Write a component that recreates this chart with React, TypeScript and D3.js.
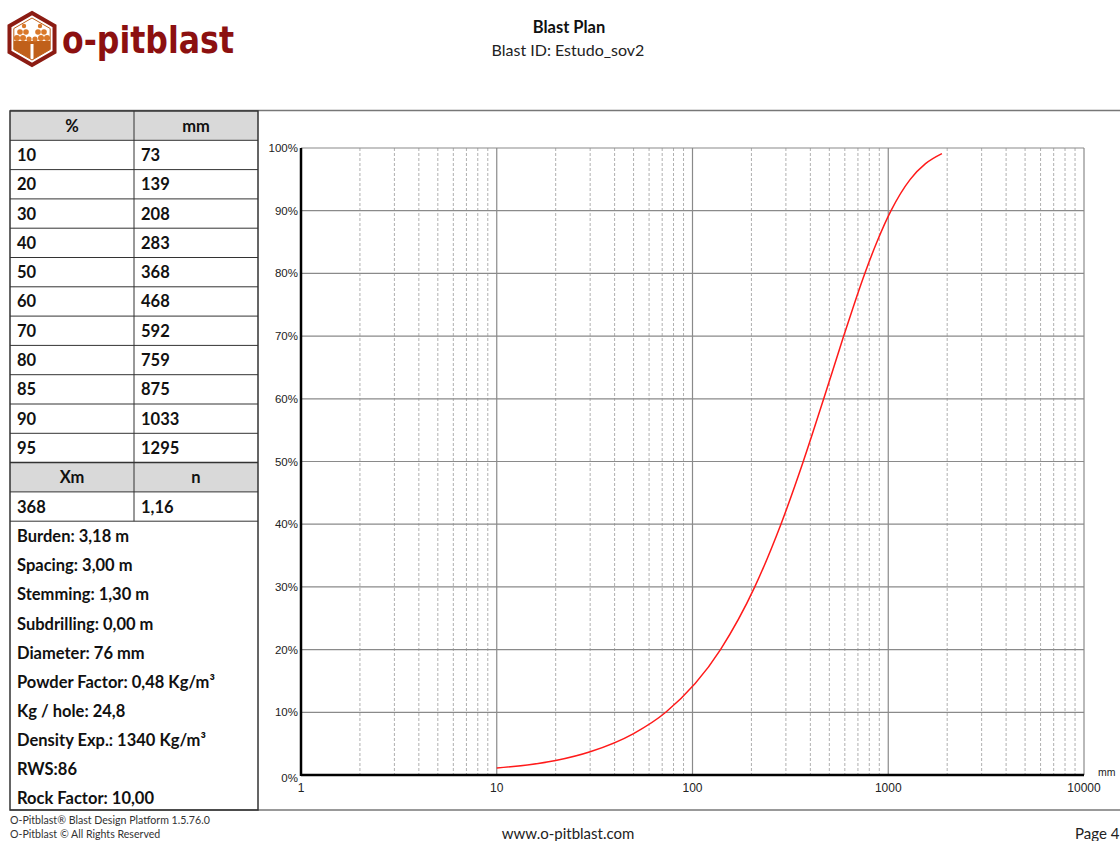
import React from "react";
import * as d3 from "d3";

const W = 1120;
const H = 841;

const pctRows = ["10", "20", "30", "40", "50", "60", "70", "80", "85", "90", "95"];
const mmRows = ["73", "139", "208", "283", "368", "468", "592", "759", "875", "1033", "1295"];
const xmValue = "368";
const nValue = "1,16";
const params = [
  "Burden: 3,18 m",
  "Spacing: 3,00 m",
  "Stemming: 1,30 m",
  "Subdrilling: 0,00 m",
  "Diameter: 76 mm",
  "Powder Factor: 0,48 Kg/m³",
  "Kg / hole: 24,8",
  "Density Exp.: 1340 Kg/m³",
  "RWS:86",
  "Rock Factor: 10,00",
];

// curve points: size (mm) and passing (%)
const curveSizes = [10, 20, 30, 50, 73, 139, 208, 283, 368, 468, 592, 759, 875, 1033, 1295, 1550, 1880];
const curvePassing = [1.1, 2.3, 3.7, 6.6, 10, 20, 30, 40, 50, 60, 70, 80, 85, 90, 95, 97.5, 99.1];

const yTicks = [0, 10, 20, 30, 40, 50, 60, 70, 80, 90, 100];
const xDecades = [1, 10, 100, 1000, 10000];

const FONT = "Lato, 'Open Sans', sans-serif";
const AX_FONT = "'Liberation Sans', Arial, sans-serif";

function Logo() {
  const cx = 32, cy = 39, r = 26;
  const hex = d3.range(6).map((i) => {
    const a = (Math.PI / 3) * i - Math.PI / 2;
    return [cx + r * Math.cos(a), cy + r * Math.sin(a)];
  });
  const rIn = 21;
  const hexIn = d3.range(6).map((i) => {
    const a = (Math.PI / 3) * i - Math.PI / 2;
    return [cx + rIn * Math.cos(a), cy + rIn * Math.sin(a)];
  });
  const circles = [
    [24, 26, 2.2], [40, 26, 2.2],
    [20, 32, 2.8], [26, 32, 2.8], [38, 32, 2.8], [44, 32, 2.8],
    [17, 38, 3], [23, 38, 3], [29, 39, 2.6], [35, 39, 2.6], [41, 38, 3], [47, 38, 3],
  ];
  return (
    <g>
      <polygon points={hex.map((p) => p.join(",")).join(" ")} fill="#fff" stroke="#8c1c13" strokeWidth={4} />
      <clipPath id="hexclip">
        <polygon points={hexIn.map((p) => p.join(",")).join(" ")} />
      </clipPath>
      <g clipPath="url(#hexclip)">
        <rect x={cx - rIn} y={41} width={rIn * 2} height={30} fill="#c0601a" />
        {circles.map((c, i) => (
          <circle key={i} cx={c[0]} cy={c[1]} r={c[2]} fill="#d9782a" />
        ))}
        <rect x={30.5} y={44} width={3} height={20} fill="#fff" />
      </g>
      <polygon points={hexIn.map((p) => p.join(",")).join(" ")} fill="none" stroke="#c0601a" strokeWidth={1} />
      <text
        x={62}
        y={53}
        fontFamily="'DejaVu Sans', 'Liberation Sans', sans-serif"
        fontWeight="bold"
        fontSize={38}
        fill="#8c1010"
        textLength={172}
        lengthAdjust="spacingAndGlyphs"
      >
        o-pitblast
      </text>
    </g>
  );
}

function Table() {
  const x0 = 10, x1 = 134, x2 = 258;
  const top = 111;
  const rowH = 29.3;
  const headerY = top;
  const rowsTop = top + rowH;
  const xmHeaderY = rowsTop + rowH * pctRows.length;
  const xmRowY = xmHeaderY + rowH;
  const paramsTop = xmRowY + rowH;
  const bottom = 810;
  const stroke = "#333";
  const textStyle = { fontFamily: FONT, fontWeight: 700 as const, fontSize: 16.5, fill: "#111" };
  return (
    <g>
      <rect x={x0} y={headerY} width={x2 - x0} height={rowH} fill="#d9d9d9" />
      <rect x={x0} y={xmHeaderY} width={x2 - x0} height={rowH} fill="#d9d9d9" />
      <text x={(x0 + x1) / 2} y={headerY + rowH / 2 + 6} textAnchor="middle" {...textStyle}>%</text>
      <text x={(x1 + x2) / 2} y={headerY + rowH / 2 + 6} textAnchor="middle" {...textStyle}>mm</text>
      {pctRows.map((p, i) => {
        const y = rowsTop + i * rowH;
        return (
          <g key={p}>
            <text x={x0 + 7} y={y + rowH / 2 + 6} {...textStyle}>{p}</text>
            <text x={x1 + 7} y={y + rowH / 2 + 6} {...textStyle}>{mmRows[i]}</text>
            <line x1={x0} x2={x2} y1={y} y2={y} stroke={stroke} strokeWidth={1} />
          </g>
        );
      })}
      <line x1={x0} x2={x2} y1={xmHeaderY} y2={xmHeaderY} stroke={stroke} strokeWidth={1.5} />
      <text x={(x0 + x1) / 2} y={xmHeaderY + rowH / 2 + 6} textAnchor="middle" {...textStyle}>Xm</text>
      <text x={(x1 + x2) / 2} y={xmHeaderY + rowH / 2 + 6} textAnchor="middle" {...textStyle}>n</text>
      <line x1={x0} x2={x2} y1={xmRowY} y2={xmRowY} stroke={stroke} strokeWidth={1} />
      <text x={x0 + 7} y={xmRowY + rowH / 2 + 6} {...textStyle}>{xmValue}</text>
      <text x={x1 + 7} y={xmRowY + rowH / 2 + 6} {...textStyle}>{nValue}</text>
      <line x1={x0} x2={x2} y1={paramsTop} y2={paramsTop} stroke={stroke} strokeWidth={1} />
      <line x1={x1} x2={x1} y1={top} y2={paramsTop} stroke={stroke} strokeWidth={1} />
      {params.map((p, i) => (
        <text key={p} x={x0 + 7} y={paramsTop + 21 + i * 29.1} {...textStyle}>{p}</text>
      ))}
      <rect x={x0} y={top} width={x2 - x0} height={bottom - top} fill="none" stroke={stroke} strokeWidth={1.5} />
    </g>
  );
}

function Chart() {
  const x = d3.scaleLog().domain([1, 10000]).range([301, 1084]);
  const y = d3.scaleLinear().domain([0, 100]).range([775, 148]);
  const minors: number[] = [];
  for (let d = 1; d < 10000; d *= 10) {
    for (let k = 2; k <= 9; k++) minors.push(d * k);
  }
  const line = d3
    .line<number>()
    .x((_, i) => x(curveSizes[i]))
    .y((v) => y(v))
    .curve(d3.curveMonotoneX);
  return (
    <g>
      {minors.map((m) => (
        <line key={m} x1={x(m)} x2={x(m)} y1={y(100)} y2={y(0)} stroke="#b0b0b0" strokeWidth={1} strokeDasharray="3,2" />
      ))}
      {yTicks.map((t) => (
        <line key={t} x1={x(1)} x2={x(10000)} y1={y(t)} y2={y(t)} stroke="#8a8a8a" strokeWidth={1.2} />
      ))}
      {xDecades.map((d) => (
        <line key={d} x1={x(d)} x2={x(d)} y1={y(100)} y2={y(0)} stroke="#8a8a8a" strokeWidth={1.2} />
      ))}
      <path d={line(curvePassing) || ""} fill="none" stroke="#ff1a1a" strokeWidth={1.5} />
      <line x1={x(1)} x2={x(1)} y1={y(100)} y2={y(0) + 1} stroke="#000" strokeWidth={2.5} />
      <line x1={x(1)} x2={x(10000)} y1={y(0)} y2={y(0)} stroke="#000" strokeWidth={2.5} />
      {yTicks.map((t) => (
        <text key={t} x={298} y={y(t) + (t === 0 ? 7 : 4)} textAnchor="end" fontFamily={AX_FONT} fontSize={11.5} fill="#222">
          {t}%
        </text>
      ))}
      {xDecades.map((d) => (
        <text key={d} x={x(d)} y={792} textAnchor="middle" fontFamily={AX_FONT} fontSize={12} fill="#222">
          {d}
        </text>
      ))}
      <text x={1098} y={776} fontFamily={AX_FONT} fontSize={10.5} fill="#222">mm</text>
    </g>
  );
}

export default function App() {
  return (
    <svg width={W} height={H} style={{ position: "absolute", left: 0, top: 0, background: "#fff" }}>
      <rect width={W} height={H} fill="#fff" />
      <Logo />
      <text x={569} y={33} textAnchor="middle" fontFamily={FONT} fontWeight={700} fontSize={16.5} fill="#111">Blast Plan</text>
      <text x={568} y={56} textAnchor="middle" fontFamily={FONT} fontSize={16} fill="#222">Blast ID: Estudo_sov2</text>
      <line x1={10} x2={W} y1={110.5} y2={110.5} stroke="#777" strokeWidth={1.5} />
      <line x1={10} x2={W} y1={810} y2={810} stroke="#777" strokeWidth={1.5} />
      <Table />
      <Chart />
      <text x={10} y={824} fontFamily={FONT} fontSize={10.6} fill="#333">O-Pitblast® Blast Design Platform 1.5.76.0</text>
      <text x={10} y={838} fontFamily={FONT} fontSize={10.6} fill="#333">O-Pitblast © All Rights Reserved</text>
      <text x={568} y={839} textAnchor="middle" fontFamily={FONT} fontSize={15} fill="#222">www.o-pitblast.com</text>
      <text x={1075} y={839} fontFamily={FONT} fontSize={15} fill="#222">Page 4</text>
    </svg>
  );
}
